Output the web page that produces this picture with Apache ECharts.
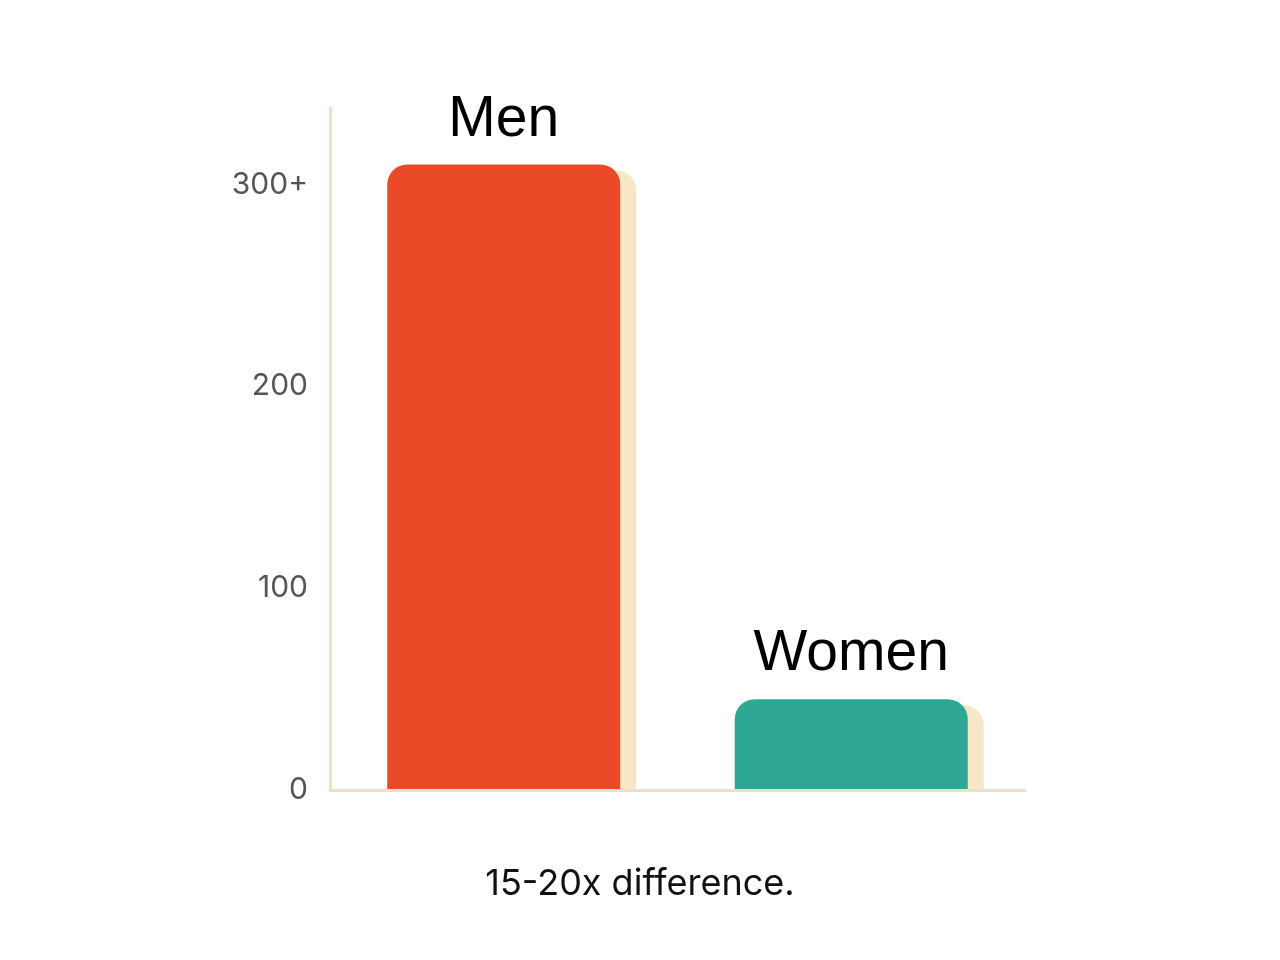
<!DOCTYPE html>
<html>
<head>
<meta charset="utf-8">
<script src="https://cdn.jsdelivr.net/npm/echarts@6/dist/echarts.min.js"></script>
<style>
  html, body { margin: 0; padding: 0; background: #fff; }
  #chart { width: 1280px; height: 960px; }
</style>
</head>
<body>
<div id="chart"></div>
<script>
// data
const groups = ['Men', 'Women']
const counts = [310, 45]
const barColors = ['#EA4A27', '#2EA794']
const yTicks = [0, 100, 200, 300]
const caption = '15-20x difference.'

const chart = echarts.init(document.getElementById('chart'))

const option = {
  animation: false,
  grid: { left: 330, right: 255, top: 108, bottom: 170 },
  xAxis: {
    type: 'category',
    data: groups,
    axisTick: { show: false },
    axisLabel: { show: false },
    axisLine: { lineStyle: { color: '#EEE0C6', width: 3 } },
    z: 5
  },
  yAxis: {
    type: 'value',
    min: 0,
    max: 338,
    interval: 100,
    splitLine: { show: false },
    axisTick: { show: false },
    axisLine: { show: true, lineStyle: { color: '#EEE0C6', width: 3 } },
    axisLabel: {
      margin: 22,
      color: '#555',
      fontSize: 30,
      fontFamily: 'Inter',
      formatter: v => {
        if (!yTicks.includes(v)) return ''
        return v === yTicks[yTicks.length - 1] ? v + '+' : String(v)
      }
    }
  },
  series: [
    // cream shadow behind each bar, shifted right
    {
      type: 'custom',
      z: 1,
      data: counts.map((v, i) => [i, v]),
      renderItem: (params, api) => {
        const top = api.coord([api.value(0), api.value(1)])
        const base = api.coord([api.value(0), 0])
        const w = 233
        return {
          type: 'rect',
          shape: { x: top[0] - w / 2 + 16, y: top[1] + 6, width: w, height: base[1] - top[1] - 6, r: [20, 20, 0, 0] },
          style: { fill: '#F8E7C6' }
        }
      }
    },
    {
      type: 'bar',
      z: 2,
      barWidth: 233,
      data: counts.map((v, i) => ({ value: v, itemStyle: { color: barColors[i] } })),
      itemStyle: { borderRadius: [20, 20, 0, 0] },
      label: {
        show: true,
        position: 'top',
        distance: 16,
        formatter: p => p.name,
        color: '#000',
        fontSize: 57,
        fontFamily: 'Liberation Sans'
      }
    }
  ],
  graphic: [{
    type: 'text',
    left: 'center',
    top: 866,
    style: { text: caption, fontSize: 36, fontFamily: 'Inter', fill: '#111' }
  }]
}

chart.setOption(option)
</script>
</body>
</html>
